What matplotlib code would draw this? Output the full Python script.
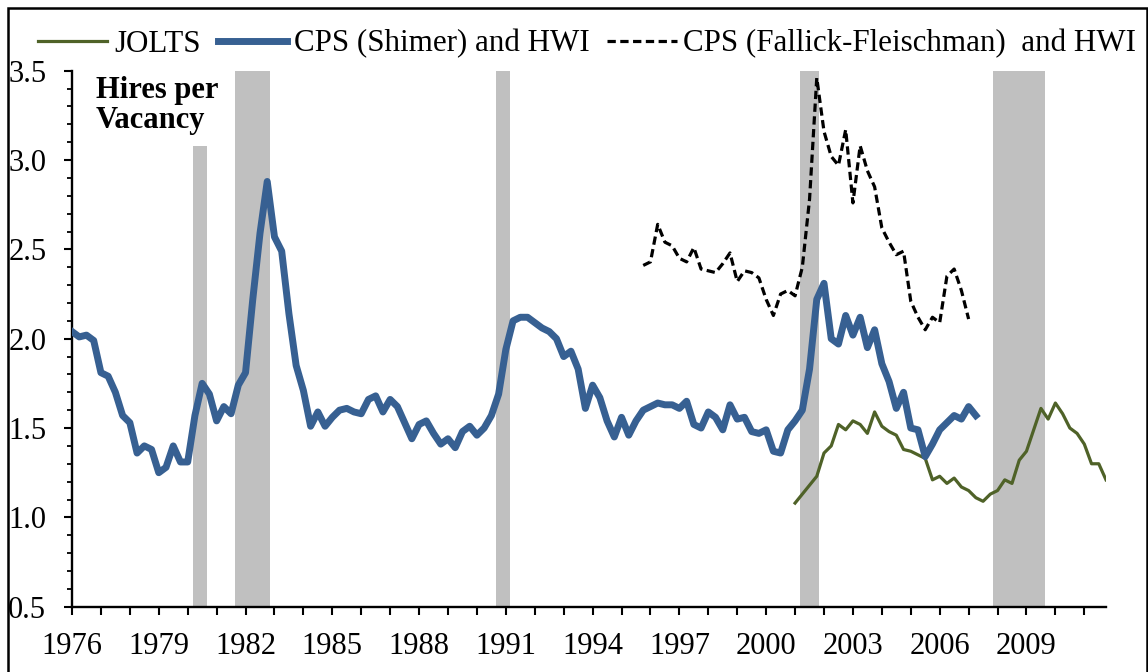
import matplotlib
matplotlib.use('Agg')
import matplotlib.pyplot as plt
import numpy as np

plt.rcParams['font.family'] = ['Liberation Serif', 'DejaVu Serif']

# quarterly series, first quarter of each given as (year, quarter)
shimer_start = (1976, 1)
shimer = [2.04, 2.01, 2.02, 1.99, 1.81, 1.79, 1.70, 1.57, 1.53, 1.36,
          1.40, 1.38, 1.25, 1.28, 1.40, 1.31, 1.31, 1.57, 1.75, 1.69,
          1.54, 1.62, 1.58, 1.74, 1.81, 2.22, 2.59, 2.88, 2.57, 2.49,
          2.14, 1.85, 1.71, 1.51, 1.59, 1.51, 1.56, 1.60, 1.61, 1.59,
          1.58, 1.66, 1.68, 1.59, 1.66, 1.62, 1.53, 1.44, 1.52, 1.54,
          1.47, 1.41, 1.44, 1.39, 1.48, 1.51, 1.46, 1.50, 1.57, 1.69,
          1.94, 2.10, 2.12, 2.12, 2.09, 2.06, 2.04, 2.00, 1.90, 1.93,
          1.83, 1.61, 1.74, 1.67, 1.54, 1.45, 1.56, 1.46, 1.54, 1.60,
          1.62, 1.64, 1.63, 1.63, 1.61, 1.65, 1.52, 1.50, 1.59, 1.56,
          1.49, 1.63, 1.55, 1.56, 1.48, 1.47, 1.49, 1.37, 1.36, 1.49,
          1.54, 1.60, 1.83, 2.22, 2.31, 2.00, 1.97, 2.13, 2.02, 2.12,
          1.95, 2.05, 1.86, 1.76, 1.61, 1.70, 1.50, 1.49, 1.34, 1.41,
          1.49, 1.53, 1.57, 1.55, 1.62, 1.57]

ff_start = (1995, 4)
fallick = [2.41, 2.43, 2.64, 2.54, 2.52, 2.45, 2.43, 2.51, 2.39, 2.38,
           2.37, 2.42, 2.48, 2.32, 2.38, 2.37, 2.34, 2.22, 2.13, 2.25,
           2.27, 2.24, 2.40, 2.78, 3.46, 3.16, 3.02, 2.97, 3.17, 2.76,
           3.08, 2.94, 2.85, 2.62, 2.54, 2.47, 2.49, 2.21, 2.12, 2.05,
           2.12, 2.09, 2.35, 2.39, 2.27, 2.11]

jolts_start = (2001, 1)
jolts = [1.08, 1.13, 1.18, 1.23, 1.36, 1.40, 1.52, 1.49, 1.54, 1.52,
         1.47, 1.59, 1.51, 1.48, 1.46, 1.38, 1.37, 1.35, 1.33, 1.21,
         1.23, 1.19, 1.22, 1.17, 1.15, 1.11, 1.09, 1.13, 1.15, 1.21,
         1.19, 1.32, 1.37, 1.49, 1.61, 1.55, 1.64, 1.58, 1.50, 1.47,
         1.41, 1.30, 1.30, 1.21]

# NBER recessions (start, end) in fractional years, last value = top of shading
recessions = [(1980.17, 1980.66, 3.08), (1981.62, 1982.84, 3.5),
              (1990.66, 1991.14, 3.5), (2001.16, 2001.83, 3.5),
              (2007.85, 2009.63, 3.5)]

year_labels = list(range(1976, 2010, 3))


def qx(start, n):
    # fractional-year x positions for n quarters from start
    y, q = start
    return y + (q - 1) / 4 + np.arange(n) / 4


fig = plt.figure(figsize=(11.48, 6.72), dpi=100)
ax = fig.add_axes([72 / 1148, 1 - 606.7 / 672, 1034 / 1148, 536 / 672])

ymin, ymax = 0.5, 3.5
for a, b, top in recessions:
    ax.axvspan(a, b, ymin=0, ymax=(top - ymin) / (ymax - ymin),
               color='#C0C0C0', lw=0, zorder=1)

ax.plot(qx(jolts_start, len(jolts)), jolts, color='#4F6228', lw=2.3,
        label='JOLTS', zorder=3)
ax.plot(qx(shimer_start, len(shimer)), shimer, color='#376092', lw=5,
        label='CPS (Shimer) and HWI', zorder=4, solid_joinstyle='round')
ax.plot(qx(ff_start, len(fallick)), fallick, color='black', lw=2.3,
        dashes=(2.6, 1.4), label='CPS (Fallick-Fleischman)  and HWI', zorder=5)

ax.set_xlim(1976, 2011.75)
ax.set_ylim(ymin, ymax)
ax.set_yticks(np.arange(0.5, 3.51, 0.5))
ax.set_yticks(np.arange(0.5, 3.51, 0.1), minor=True)
ax.set_yticklabels([f'{v:.1f}' for v in np.arange(0.5, 3.51, 0.5)])
ax.set_xticks(np.arange(1976, 2012))
ax.set_xticklabels([str(y) if y in year_labels else '' for y in range(1976, 2012)])

for s in ['top', 'right']:
    ax.spines[s].set_visible(False)
for s in ['left', 'bottom']:
    ax.spines[s].set_linewidth(1.7)

ax.tick_params(axis='both', which='major', labelsize=22, width=1.5,
               length=5.5, direction='out')
ax.tick_params(axis='x', pad=13)
ax.tick_params(axis='y', pad=13)
ax.tick_params(axis='y', which='minor', width=1.3, length=3.8)

ax.text(0.023, 0.99, 'Hires per\nVacancy', transform=ax.transAxes,
        fontsize=22, fontweight='bold', va='top', ha='left', linespacing=1.05)

fig.legend(loc='center', bbox_to_anchor=(587 / 1148, 1 - 44 / 672), ncol=3,
           frameon=False, fontsize=22.3, handlelength=2.25, handletextpad=0.22,
           columnspacing=0.55, borderaxespad=0)

# outer frame of the original figure
frame = plt.Rectangle((8 / 1148, -0.02), 1138.5 / 1148, 1.02 - 8 / 672,
                      transform=fig.transFigure, fill=False, lw=1.8,
                      edgecolor='black')
fig.patches.append(frame)

fig.savefig('out.png', dpi=100)
plt.close()
